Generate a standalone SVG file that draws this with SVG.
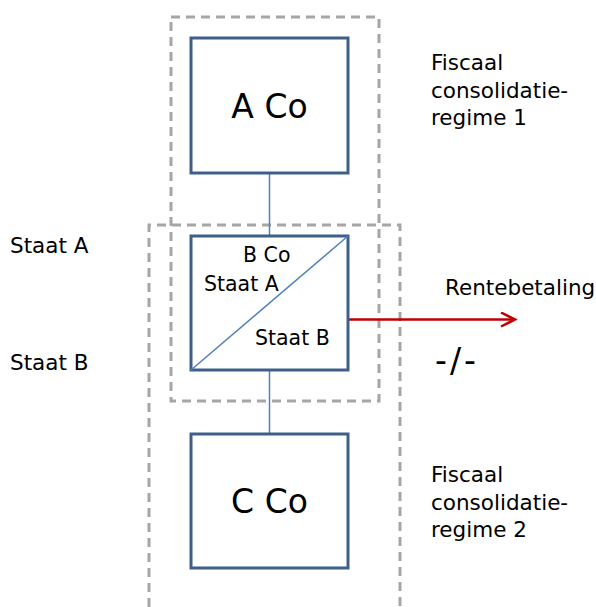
<svg xmlns="http://www.w3.org/2000/svg" width="596" height="607" viewBox="0 0 596 607">
<style>
.region{fill:none;stroke:#A6A6A6;stroke-width:3;stroke-dasharray:9,6}
.box{fill:#fff;stroke:#3E5F8A;stroke-width:3}
.conn{stroke:#4F81BD;stroke-width:1.5;fill:none}
.t{font-family:"DejaVu Sans",Verdana,sans-serif;fill:#000}
.s{font-size:21.5px}
.i{font-size:20.5px}
.b{font-size:33px}
</style>
<defs>
<marker id="arr" markerWidth="18" markerHeight="18" refX="15" refY="8" orient="auto" markerUnits="userSpaceOnUse">
<path d="M1,1 L15,8 L1,15" fill="none" stroke="#C00000" stroke-width="2.5"/>
</marker>
</defs>
<g id="regions">
<rect class="region" x="171" y="17" width="208" height="384"/>
<path class="region" d="M149,607 V225 H400 V607"/>
</g>
<g id="connectors">
<line class="conn" x1="269.5" y1="173" x2="269.5" y2="236"/>
<line class="conn" x1="269.5" y1="370" x2="269.5" y2="434"/>
<line x1="348" y1="319.5" x2="515" y2="319.5" stroke="#C00000" stroke-width="2.5" marker-end="url(#arr)"/>
</g>
<g id="acoNode">
<rect class="box" x="191" y="38" width="157" height="135"/>
<text class="t b" x="269.5" y="118" text-anchor="middle">A Co</text>
</g>
<g id="bcoNode">
<rect class="box" x="191" y="236" width="157" height="134"/>
<line class="conn" x1="191" y1="370" x2="348" y2="236"/>
<text class="t i" x="243" y="262">B Co</text>
<text class="t i" x="204" y="291">Staat A</text>
<text class="t i" x="255" y="345">Staat B</text>
</g>
<g id="ccoNode">
<rect class="box" x="191" y="434" width="157" height="134"/>
<text class="t b" x="269.5" y="513" text-anchor="middle">C Co</text>
</g>
<g id="labels">
<text class="t s" x="10" y="253">Staat A</text>
<text class="t s" x="10" y="370">Staat B</text>
<text class="t s" x="431" y="70">Fiscaal</text>
<text class="t s" x="431" y="98">consolidatie-</text>
<text class="t s" x="431" y="125">regime 1</text>
<text class="t s" x="445" y="295">Rentebetaling</text>
<text class="t b" x="435" y="372" letter-spacing="3">-/-</text>
<text class="t s" x="431" y="482">Fiscaal</text>
<text class="t s" x="431" y="510">consolidatie-</text>
<text class="t s" x="431" y="537">regime 2</text>
</g>
</svg>
